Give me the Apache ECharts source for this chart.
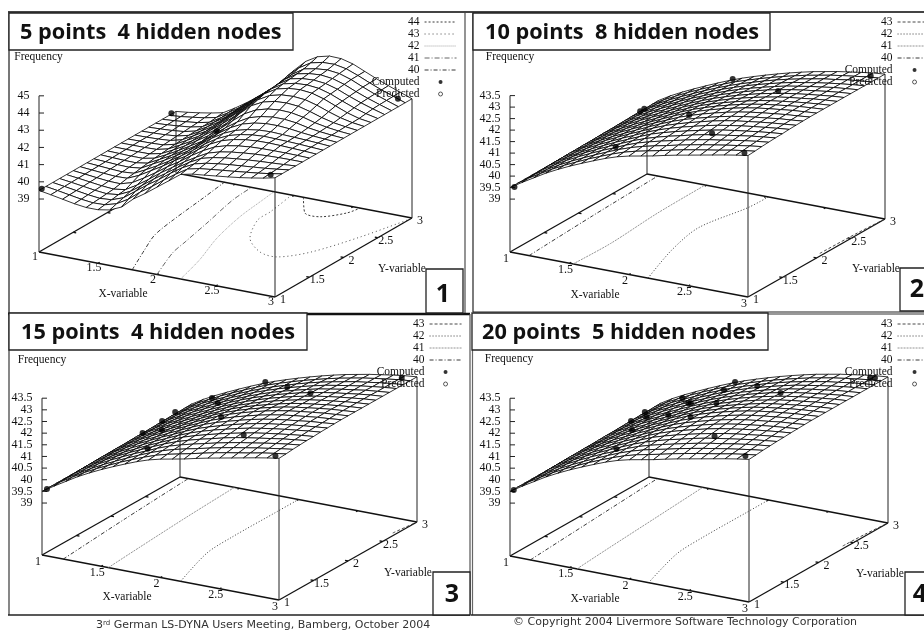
<!DOCTYPE html>
<html><head><meta charset="utf-8">
<style>html,body{margin:0;padding:0;background:#fff}#c{width:924px;height:631px}</style>
<script src="https://cdn.jsdelivr.net/npm/echarts@6/dist/echarts.min.js"></script>
</head><body><div id="c"></div>
<script>
// ---------- data ----------
const xTicks = [1, 1.5, 2, 2.5, 3];
const yTicks = [1, 1.5, 2, 2.5, 3];
const zTicksWide = ['39', '40', '41', '42', '43', '44', '45'];
const zTicksFine = ['39', '39.5', '40', '40.5', '41', '41.5', '42', '42.5', '43', '43.5'];
const titles = ['5 points  4 hidden nodes', '10 points  8 hidden nodes', '15 points  4 hidden nodes', '20 points  5 hidden nodes'];
const levelsWide = ['44', '43', '42', '41', '40'];
const levelsFine = ['43', '42', '41', '40'];

// frequency on a 21 x 21 mesh: rows y = 1 .. 3, columns x = 1 .. 3
const surface5 = [
[39.50,39.38,39.25,39.12,39.03,39.03,39.15,39.45,40.05,40.50,41.00,41.50,42.00,42.15,42.22,42.30,42.38,42.47,42.58,42.70,42.85],
[39.50,39.39,39.27,39.15,39.07,39.09,39.28,39.68,40.22,40.68,41.18,41.65,42.08,42.24,42.32,42.40,42.47,42.55,42.63,42.73,42.85],
[39.50,39.40,39.29,39.18,39.10,39.15,39.40,39.90,40.40,40.85,41.35,41.80,42.15,42.32,42.42,42.50,42.56,42.62,42.68,42.76,42.85],
[39.50,39.41,39.31,39.21,39.14,39.22,39.54,40.02,40.52,40.98,41.45,41.88,42.24,42.42,42.53,42.61,42.67,42.72,42.76,42.80,42.85],
[39.50,39.42,39.33,39.24,39.18,39.28,39.68,40.15,40.65,41.10,41.55,41.95,42.32,42.52,42.64,42.72,42.78,42.82,42.84,42.85,42.85],
[39.50,39.43,39.35,39.28,39.26,39.46,39.86,40.30,40.78,41.20,41.68,42.10,42.45,42.65,42.77,42.84,42.87,42.88,42.88,42.87,42.85],
[39.50,39.44,39.38,39.33,39.35,39.65,40.05,40.45,40.90,41.30,41.80,42.25,42.58,42.78,42.90,42.96,42.97,42.95,42.92,42.89,42.85],
[39.50,39.45,39.40,39.36,39.41,39.75,40.12,40.52,40.95,41.40,41.90,42.33,42.65,42.84,42.95,43.00,42.98,42.96,42.93,42.89,42.85],
[39.50,39.46,39.42,39.40,39.48,39.85,40.20,40.60,41.00,41.50,42.00,42.42,42.72,42.90,43.00,43.03,43.00,42.97,42.94,42.90,42.85],
[39.50,39.47,39.44,39.43,39.54,39.89,40.25,40.65,41.05,41.57,42.07,42.52,42.86,43.05,43.15,43.16,43.11,43.02,42.95,42.90,42.85],
[39.50,39.48,39.46,39.46,39.60,39.93,40.30,40.70,41.10,41.65,42.15,42.62,43.00,43.20,43.30,43.30,43.22,43.07,42.97,42.90,42.85],
[39.50,39.49,39.48,39.49,39.64,39.98,40.35,40.78,41.21,41.75,42.32,42.86,43.22,43.41,43.48,43.45,43.32,43.13,43.00,42.91,42.85],
[39.50,39.50,39.50,39.52,39.68,40.03,40.40,40.85,41.32,41.85,42.50,43.10,43.45,43.62,43.66,43.60,43.42,43.20,43.03,42.93,42.85],
[39.50,39.51,39.52,39.55,39.72,40.08,40.45,40.93,41.44,41.98,42.61,43.22,43.60,43.77,43.81,43.75,43.56,43.31,43.09,42.94,42.85],
[39.50,39.51,39.53,39.58,39.75,40.12,40.50,41.00,41.55,42.10,42.72,43.35,43.75,43.92,43.97,43.90,43.70,43.42,43.15,42.95,42.85],
[39.50,39.52,39.55,39.61,39.78,40.15,40.55,41.08,41.62,42.15,42.77,43.40,43.82,43.98,44.02,43.95,43.75,43.47,43.21,43.00,42.85],
[39.50,39.53,39.57,39.64,39.80,40.18,40.60,41.15,41.68,42.22,42.82,43.45,43.88,44.03,44.07,44.00,43.80,43.52,43.27,43.05,42.85],
[39.50,39.54,39.60,39.67,39.83,40.22,40.65,41.20,41.74,42.25,42.88,43.50,43.94,44.09,44.14,44.06,43.85,43.56,43.30,43.07,42.85],
[39.50,39.55,39.62,39.70,39.85,40.25,40.70,41.25,41.78,42.30,42.95,43.55,44.00,44.14,44.20,44.12,43.90,43.60,43.32,43.08,42.85],
[39.50,39.56,39.65,39.75,39.90,40.30,40.75,41.28,41.82,42.38,43.08,43.70,44.12,44.28,44.30,44.17,43.91,43.61,43.33,43.09,42.85],
[39.50,39.58,39.68,39.80,39.95,40.35,40.80,41.30,41.85,42.45,43.20,43.85,44.25,44.42,44.40,44.22,43.92,43.62,43.35,43.10,42.85]
];
// panels 2-4 read the same to within what the picture resolves
const surfaceSmooth = [
[39.50,39.82,40.12,40.42,40.68,40.92,41.14,41.35,41.55,41.72,41.85,41.95,42.05,42.17,42.28,42.38,42.48,42.58,42.68,42.77,42.85],
[39.50,39.84,40.14,40.43,40.69,40.93,41.16,41.37,41.57,41.75,41.89,42.00,42.11,42.23,42.34,42.44,42.53,42.62,42.72,42.80,42.87],
[39.50,39.85,40.15,40.44,40.70,40.94,41.17,41.39,41.60,41.78,41.93,42.05,42.16,42.28,42.39,42.49,42.58,42.67,42.75,42.83,42.90],
[39.50,39.86,40.17,40.46,40.72,40.96,41.19,41.40,41.62,41.81,41.96,42.09,42.21,42.33,42.44,42.54,42.62,42.71,42.79,42.86,42.92],
[39.50,39.88,40.18,40.47,40.73,40.97,41.20,41.42,41.64,41.83,41.99,42.13,42.25,42.38,42.49,42.58,42.66,42.74,42.82,42.88,42.94],
[39.50,39.89,40.19,40.47,40.73,40.97,41.21,41.43,41.65,41.86,42.02,42.16,42.29,42.41,42.52,42.62,42.70,42.77,42.84,42.90,42.95],
[39.50,39.90,40.20,40.48,40.74,40.98,41.22,41.44,41.67,41.87,42.04,42.19,42.32,42.45,42.56,42.65,42.73,42.80,42.86,42.92,42.97],
[39.50,39.91,40.21,40.49,40.75,40.99,41.23,41.45,41.68,41.89,42.06,42.21,42.35,42.48,42.59,42.68,42.75,42.82,42.88,42.93,42.98],
[39.50,39.91,40.21,40.49,40.75,40.99,41.23,41.46,41.69,41.90,42.08,42.23,42.37,42.50,42.61,42.70,42.77,42.83,42.90,42.94,42.99],
[39.50,39.92,40.22,40.50,40.76,41.00,41.24,41.47,41.69,41.91,42.09,42.25,42.39,42.52,42.63,42.72,42.79,42.85,42.91,42.95,43.00],
[39.50,39.92,40.22,40.50,40.76,41.00,41.24,41.47,41.70,41.92,42.10,42.26,42.40,42.53,42.64,42.73,42.80,42.86,42.92,42.96,43.00],
[39.50,39.93,40.23,40.50,40.76,41.00,41.24,41.47,41.70,41.91,42.09,42.25,42.39,42.52,42.63,42.72,42.79,42.86,42.92,42.96,43.00],
[39.50,39.94,40.24,40.51,40.77,41.01,41.24,41.47,41.69,41.90,42.08,42.23,42.37,42.50,42.62,42.71,42.78,42.85,42.91,42.96,43.00],
[39.50,39.94,40.24,40.52,40.77,41.01,41.24,41.47,41.69,41.89,42.06,42.22,42.36,42.49,42.60,42.70,42.78,42.84,42.91,42.96,43.00],
[39.50,39.95,40.25,40.52,40.78,41.01,41.24,41.47,41.68,41.88,42.05,42.21,42.35,42.48,42.59,42.69,42.77,42.84,42.90,42.96,43.00],
[39.50,39.96,40.26,40.53,40.78,41.02,41.25,41.47,41.68,41.87,42.04,42.20,42.34,42.47,42.58,42.68,42.76,42.83,42.90,42.96,43.00],
[39.50,39.97,40.27,40.54,40.78,41.02,41.25,41.46,41.67,41.86,42.03,42.18,42.32,42.45,42.57,42.66,42.75,42.82,42.90,42.95,43.00],
[39.50,39.98,40.28,40.54,40.79,41.02,41.25,41.46,41.67,41.85,42.02,42.17,42.31,42.44,42.56,42.65,42.74,42.82,42.89,42.95,43.00],
[39.50,39.98,40.28,40.55,40.79,41.02,41.25,41.46,41.66,41.84,42.00,42.16,42.30,42.43,42.54,42.64,42.74,42.81,42.89,42.95,43.00],
[39.50,39.99,40.29,40.55,40.80,41.03,41.25,41.46,41.66,41.83,41.99,42.14,42.28,42.41,42.53,42.63,42.73,42.81,42.88,42.95,43.00],
[39.50,40.00,40.30,40.56,40.80,41.03,41.25,41.46,41.65,41.82,41.98,42.13,42.27,42.40,42.52,42.62,42.72,42.80,42.88,42.95,43.00]
];

// computed points [x, y, frequency]
const dots5 = [[1,1.04,39.5],[0.99,2.95,39.5],[1.95,1.96,42],[2.94,1.04,42.85],[2.91,2.95,42.85]];
const dots10 = [[1.02,1.03,39.5],[1,2.96,39.6],[1,2.9,39.6],[1.6,1.5,41],[1.93,2,41.87],[1.72,3,41.54],[2.39,2.5,42.52],[2.41,1.5,42.4],[2.97,1,42.93],[2.88,3,42.8]];
const dots15 = [[1.03,1.02,39.6],[1.6,1.5,41.07],[1.43,2,40.88],[1.14,2.5,40.15],[1.15,2.2,40.14],[1,2.93,39.68],[1.27,3,40.42],[1.61,2.5,41.37],[1.93,2,41.92],[2.44,1.45,42.56],[2.97,1,42.92],[1.72,3,41.54],[2.08,2.7,42.18],[2.45,2.4,42.77],[2.9,2.95,42.94]];
const dots20 = [[1.02,1.02,39.55],[1.6,1.5,41.07],[1.14,2.5,40.12],[1.44,2,40.88],[1,2.94,39.62],[1.21,2.6,40.19],[1.57,2.3,41.14],[1.28,3,40.39],[1.62,2.5,41.36],[1.67,2.45,41.5],[1.93,2,41.92],[2.45,1.45,42.54],[2.03,2.2,42.28],[1.86,2.6,41.99],[1.72,3,41.52],[2.08,2.7,42.21],[2.97,1,42.97],[2.45,2.4,42.78],[2.88,2.95,42.92],[2.92,2.95,42.96]];

// contour lines on the floor, [x, y] per level
const contours5 = {
  '44': [[2.08,3],[2.26,2.71],[2.4,2.69],[2.53,2.86],[2.56,3]],
  '43': [[1.98,3],[2.03,2.6],[2.04,2.4],[2.19,2.03],[2.41,1.8],[2.57,1.77],[2.73,1.98],[2.88,2.45],[3,2.98]],
  '42': [[2.2,1],[2.11,1.43],[1.98,1.91],[1.89,2.4],[1.85,2.8],[1.83,3]],
  '41': [[2,1],[1.86,1.47],[1.82,1.72],[1.75,2.16],[1.66,2.69],[1.64,3]],
  '40': [[1.79,1],[1.65,1.42],[1.55,1.74],[1.5,2.1],[1.45,2.62],[1.41,3]]
};
const contours10 = {
  '43': [[2.97,2.1],[2.98,2.6],[3,3]],
  '42': [[2.16,1],[2,1.62],[1.92,2.15],[2.01,2.72],[2.02,3]],
  '41': [[1.53,1],[1.54,1.53],[1.5,2.28],[1.49,3]],
  '40': [[1.16,1],[1.12,2],[1.09,3]]
};
const contours15 = {
  '43': [[2.97,2.7],[3,3]],
  '42': [[2.17,1],[2.02,1.64],[2,2.04],[2,2.68],[2,3]],
  '41': [[1.56,1],[1.53,1.51],[1.49,2.26],[1.46,3]],
  '40': [[1.18,1],[1.12,2],[1.07,3]]
};
const contours20 = {
  '43': [[2.97,2.4],[2.98,2.7],[3,3]],
  '42': [[2.16,1],[2.02,1.64],[2,2.04],[2,2.68],[2,3]],
  '41': [[1.56,1],[1.53,1.51],[1.49,2.26],[1.45,3]],
  '40': [[1.17,1],[1.12,2],[1.07,3]]
};

// ---------- layout and styles ----------
const styleWide = {
  '44': {color:'#222', type:[2,2]}, '43': {color:'#333', type:[1,3]}, '42': {color:'#999', type:[1,1]},
  '41': {color:'#555', type:[5,2,1,2]}, '40': {color:'#222', type:[4,2,1,2]}
};
const styleFine = {
  '43': {color:'#333', type:[3,2]}, '42': {color:'#222', type:[1,2]}, '41': {color:'#888', type:[2,1]}, '40': {color:'#222', type:[4,2,1,2]}
};
const panels = [
  {box:[9,13,465,313], v:{X0:39,Y0:252,a:118,b:68.5,c:22.5,d:-39.5,k:17.2,zb:35.92}, surface:surface5, dots:dots5, contours:contours5, levels:levelsWide, styles:styleWide, zTicks:zTicksWide, xOff:[-4,5],
   legend:{right:467,top:16,w:32}, titleBox:[9,13,284,37], titleText:[20,33], freq:[38.5,57], xName:[123,294], yName:[402,269], numBox:[426,269,37,44], num:[443,295]},
  {box:[473,13,924,312], v:{X0:510,Y0:252,a:119,b:68.5,c:22.5,d:-39,k:23,zb:36.7}, surface:surfaceSmooth, dots:dots10, contours:contours10, levels:levelsFine, styles:styleFine, zTicks:zTicksFine, xOff:[-4,6.5],
   legend:{right:-8,top:16,w:34}, titleBox:[473,13,297,37], titleText:[485,33], freq:[510,57], xName:[595,295], yName:[876,269], numBox:[900,268,40,43], num:[917,290]},
  {box:[9,314,470,615], v:{X0:42,Y0:555,a:118.5,b:69,c:22.5,d:-39,k:23.3,zb:36.77}, surface:surfaceSmooth, dots:dots15, contours:contours15, levels:levelsFine, styles:styleFine, zTicks:zTicksFine, xOff:[-4,6.5],
   legend:{right:462,top:318,w:32}, titleBox:[9,313,298,37], titleText:[21,333], freq:[42,360], xName:[127,597], yName:[408,573], numBox:[433,572,37,43], num:[452,595]},
  {box:[473,314,924,615], v:{X0:510,Y0:556,a:119.5,b:69.5,c:23,d:-39.5,k:23.3,zb:36.73}, surface:surfaceSmooth, dots:dots20, contours:contours20, levels:levelsFine, styles:styleFine, zTicks:zTicksFine, xOff:[-4,6.5],
   legend:{right:-8,top:318,w:34}, titleBox:[472,313,296,37], titleText:[482,333], freq:[509,359], xName:[595,599], yName:[880,574], numBox:[905,572,40,43], num:[920,595]}
];
const SERIF = '"Liberation Serif","Times New Roman",serif';
const INK = '#111';

function project(v, x, y, z) {
  return [v.X0 + v.a*(x-1) + v.b*(y-1), v.Y0 + v.c*(x-1) + v.d*(y-1) - v.k*(z - v.zb)];
}

// straight pieces of the 3D box: [[x,y,z],[x,y,z],pixelTickX]
function segmentSeries(pi, segs, z, width, color) {
  const v = panels[pi].v;
  return {type:'custom', xAxisIndex:pi, yAxisIndex:pi, silent:true, clip:false, z,
    data: segs.map((_, k) => [k, k]),
    renderItem(params, api) {
      const s = segs[params.dataIndex];
      const p1 = api.coord(project(v, ...s[0]));
      const p2 = api.coord(project(v, ...s[1]));
      return {type:'line', shape:{x1:p1[0], y1:p1[1], x2:p2[0] + (s[2]||0), y2:p2[1]}, style:{stroke:color, lineWidth:width, fill:null}};
    }};
}
function surfaceSeries(pi) {
  const P = panels[pi], v = P.v, T = P.surface, quads = [];
  for (let j = T.length - 2; j >= 0; j--) for (let i = 0; i < T[0].length - 1; i++) quads.push([i, j]);
  const at = (i, j) => project(v, 1 + i/10, 1 + j/10, T[j][i]);
  return {type:'custom', xAxisIndex:pi, yAxisIndex:pi, silent:true, clip:false, z:2, progressive:0,
    data: quads,
    renderItem(params, api) {
      const [i, j] = quads[params.dataIndex];
      const pts = [at(i,j), at(i+1,j), at(i+1,j+1), at(i,j+1)].map(p => api.coord(p));
      return {type:'polygon', z2:params.dataIndex, shape:{points:pts}, style:{fill:'#fff', stroke:'#000', lineWidth:0.8}};
    }};
}
function tickLabelSeries(pi) {
  const P = panels[pi], v = P.v, items = [];
  xTicks.forEach(t => items.push({t:String(t), at:project(v,t,1,v.zb), off:P.xOff, align:'center'}));
  yTicks.forEach(t => items.push({t:String(t), at:project(v,3,t,v.zb), off:[8,3], align:'center'}));
  P.zTicks.forEach(t => items.push({t, at:project(v,1,1,+t), off:[-9.5,0], align:'right'}));
  return {type:'custom', xAxisIndex:pi, yAxisIndex:pi, silent:true, clip:false, z:3,
    data: items.map((_, k) => [k, k]),
    renderItem(params, api) {
      const it = items[params.dataIndex], p = api.coord(it.at);
      return {type:'text', style:{text:it.t, x:p[0]+it.off[0], y:p[1]+it.off[1], align:it.align, verticalAlign:'middle', fill:INK, font:'12px '+SERIF}};
    }};
}

const grid = [], xAxis = [], yAxis = [], series = [], legend = [], elements = [];
panels.forEach((P, pi) => {
  const [l, t, r, b] = P.box, v = P.v;
  grid.push({left:l, top:t, width:r-l, height:b-t, show:false});
  xAxis.push({type:'value', gridIndex:pi, min:l, max:r, show:false});
  yAxis.push({type:'value', gridIndex:pi, min:t, max:b, inverse:true, show:false});

  // floor contours
  P.levels.forEach(level => {
    series.push({type:'line', name:pi+':'+level, xAxisIndex:pi, yAxisIndex:pi, silent:true, z:1, smooth:0.3, symbol:'none',
      itemStyle:{color:P.styles[level].color},
      lineStyle:{width:0.9, color:P.styles[level].color, type:P.styles[level].type},
      data:P.contours[level].map(p => project(v, p[0], p[1], v.zb))});
  });
  // floor box and ticks
  const zb = v.zb, floor = [
    [[1,1,zb],[3,1,zb]], [[3,1,zb],[3,3,zb]], [[3,3,zb],[1,3,zb]], [[1,3,zb],[1,1,zb]]
  ];
  const TL = 0.025;
  xTicks.slice(1,4).forEach(t => { floor.push([[t,1,zb],[t,1+TL,zb]]); floor.push([[t,3,zb],[t,3-TL,zb]]); });
  yTicks.slice(1,4).forEach(t => { floor.push([[1,t,zb],[1+TL,t,zb]]); floor.push([[3,t,zb],[3-TL,t,zb]]); });
  series.push(segmentSeries(pi, floor, 1, 1.3, '#111'));
  // surface mesh
  series.push(surfaceSeries(pi));
  // verticals, frequency axis
  const S = P.surface, last = S.length - 1, zTop = +P.zTicks[P.zTicks.length-1];
  const verticals = [
    [[1,1,zb],[1,1,zTop]],
    [[1,3,zb],[1,3,S[last][0]]],
    [[3,1,zb],[3,1,S[0][last]]],
    [[3,3,zb],[3,3,S[last][last]]]
  ];
  P.zTicks.forEach(t => verticals.push([[1,1,+t],[1,1,+t],5]));
  series.push(segmentSeries(pi, verticals, 3, 1, '#222'));
  // points
  series.push({type:'scatter', name:pi+':Computed', xAxisIndex:pi, yAxisIndex:pi, silent:true, z:3, symbolSize:6,
    itemStyle:{color:'#000'}, data:P.dots.map(d => project(v, d[0], d[1], d[2]))});
  series.push({type:'scatter', name:pi+':Predicted', xAxisIndex:pi, yAxisIndex:pi, silent:true, z:3, symbolSize:5,
    itemStyle:{color:'#fff', borderColor:'#000', borderWidth:0.8}, data:[]});
  series.push(tickLabelSeries(pi));

  legend.push({orient:'vertical', align:'right', right:P.legend.right, top:P.legend.top, padding:0, itemGap:0,
    itemWidth:P.legend.w, itemHeight:4, selectedMode:false, z:4,
    lineStyle:{width:0.9},
    data:P.levels.map(n => ({name:pi+':'+n, itemStyle:{opacity:0}})).concat([
      {name:pi+':Computed'},
      {name:pi+':Predicted', itemStyle:{borderWidth:0.8}}
    ]),
    formatter:n => n.split(':')[1],
    textStyle:{fontFamily:SERIF, fontSize:11.5, color:INK, lineHeight:11.8, padding:0}});

  // axis names
  const nameText = (s, at, align) => ({type:'text', z:20, style:{text:s, x:at[0], y:at[1], align:align||'center', verticalAlign:'middle', fill:INK, font:'11.5px '+SERIF}});
  elements.push(nameText('Frequency', P.freq), nameText('X-variable', P.xName), nameText('Y-variable', P.yName));
  // title and number boxes
  const tb = P.titleBox, nb = P.numBox;
  elements.push({type:'rect', z:40, shape:{x:tb[0], y:tb[1], width:tb[2], height:tb[3]}, style:{fill:'#fff', stroke:'#222', lineWidth:1.3}});
  elements.push({type:'text', z:41, style:{text:titles[pi], x:P.titleText[0], y:P.titleText[1], align:'left', verticalAlign:'middle', fill:'#111', font:'bold 21.7px "Open Sans"'}});
  elements.push({type:'rect', z:40, shape:{x:nb[0], y:nb[1], width:nb[2], height:nb[3]}, style:{fill:'#fff', stroke:'#222', lineWidth:1.3}});
  elements.push({type:'text', z:41, style:{text:String(pi+1), x:P.num[0], y:P.num[1], align:'center', verticalAlign:'middle', fill:'#111', font:'bold 25px "Open Sans"'}});
});

// panel frames
const frameLines = [
  [8,12,924,12,2.2,'#444'],
  [9,12,9,314,1.6,'#555'], [465,13,465,313,1.4,'#666'], [473,13,473,312,1.4,'#444'],
  [8,314,470,314,2.6,'#111'], [473,312,924,312,1.2,'#222'], [473,314,924,314,1.2,'#333'],
  [9,314,9,615,1.4,'#555'], [470,314,470,615,1.2,'#555'], [472.5,314,472.5,615,1.2,'#666'],
  [8,615,470,615,1.4,'#222'], [471,615,924,615,1.4,'#222']
];
frameLines.forEach(f => elements.push({type:'line', z:30, shape:{x1:f[0], y1:f[1], x2:f[2], y2:f[3]}, style:{stroke:f[5], lineWidth:f[4]}}));

// footers
elements.push({type:'text', z:41, style:{
  text:'3{sup|rd} German LS-DYNA Users Meeting, Bamberg, October 2004', x:96, y:625, align:'left', verticalAlign:'middle',
  fill:'#333', font:'11px "DejaVu Sans"', rich:{sup:{fontSize:7, fontFamily:'DejaVu Sans', fill:'#333', verticalAlign:'top', padding:[0,0,4,0]}}}});
elements.push({type:'text', z:41, style:{
  text:'\u00A9 Copyright 2004 Livermore Software Technology Corporation', x:513, y:622, align:'left', verticalAlign:'middle',
  fill:'#333', font:'11px "DejaVu Sans"'}});

const chart = echarts.init(document.getElementById('c'), null, {width:924, height:631});
chart.setOption({animation:false, backgroundColor:'#fff', grid, xAxis, yAxis, series, legend, tooltip:{show:false}, graphic:{elements}});
</script></body></html>
